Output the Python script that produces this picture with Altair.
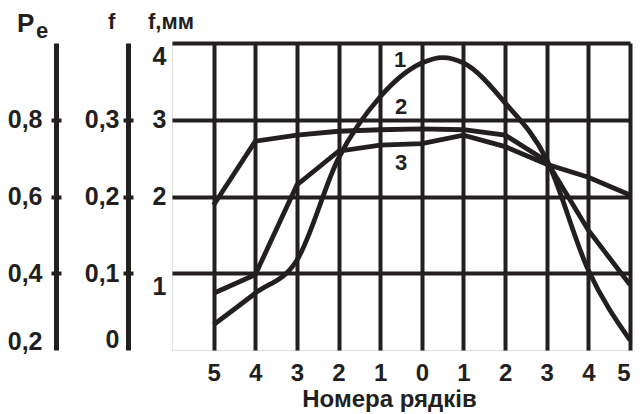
import altair as alt
import pandas as pd

# ---- data ----
positions = [1, 2, 3, 4, 5, 6, 7, 8, 9, 10, 11]
row_labels = [5, 4, 3, 2, 1, 0, 1, 2, 3, 4, 5]

curve1_pos = [1, 2, 3, 4, 5, 6, 6.5, 7, 8, 9, 10, 11]
curve1_val = [0.33, 0.74, 1.17, 2.50, 3.30, 3.74, 3.81, 3.74, 3.22, 2.48, 1.04, 0.13]
curve2_val = [1.89, 2.72, 2.80, 2.85, 2.87, 2.88, 2.87, 2.80, 2.46, 1.56, 0.85]
curve3_val = [0.74, 0.98, 2.15, 2.59, 2.67, 2.69, 2.80, 2.65, 2.42, 2.25, 2.02]

curve_names = ["1", "2", "3"]
curve_name_pos = [5.48, 5.5, 5.5]
curve_name_val = [3.78, 3.17, 2.44]

fmm_ticks = [1, 2, 3, 4]
f_ticks = [0, 0.1, 0.2, 0.3]
pe_ticks = [0.2, 0.4, 0.6, 0.8]

# ---- styling ----
INK = "#231f20"
FONT = "Liberation Sans"

df1 = pd.DataFrame({"pos": curve1_pos, "value": curve1_val})
df23 = pd.concat([
    pd.DataFrame({"pos": positions, "value": curve2_val, "curve": "2"}),
    pd.DataFrame({"pos": positions, "value": curve3_val, "curve": "3"}),
])
dfl = pd.DataFrame({"pos": curve_name_pos, "value": curve_name_val, "name": curve_names})

comma_expr = "datum.value == 0 ? '0' : replace(format(datum.value, '.1f'), '.', ',')"

x_enc = alt.X(
    "pos:Q",
    scale=alt.Scale(domain=[0, 11], nice=False, zero=False),
    axis=alt.Axis(
        values=positions, labelExpr="abs(datum.value - 6)", ticks=False, domain=False,
        grid=True, gridColor=INK, gridWidth=4, gridOpacity=1,
        labelFont=FONT, labelFontWeight="bold", labelFontSize=24, labelColor=INK,
        labelPadding=11,
        title="Номера рядків", titleFont=FONT, titleFontWeight="bold", titleFontSize=24,
        titleColor=INK, titlePadding=2, titleX=217,
    ),
)
y_enc = alt.Y(
    "value:Q",
    scale=alt.Scale(domain=[0, 4], nice=False, zero=False),
    axis=alt.Axis(
        orient="left", values=fmm_ticks, ticks=False, domain=False,
        grid=True, gridColor=INK, gridWidth=4, gridOpacity=1,
        labelFont=FONT, labelFontWeight="bold", labelFontSize=25, labelColor=INK,
        labelPadding=6,
        labelOffset={"condition": {"test": "datum.value == 4 || datum.value == 1", "value": 13}, "value": 0},
        title=None,
    ),
)

c1 = alt.Chart(df1).mark_line(color=INK, strokeWidth=4.8, interpolate="monotone")
c23 = alt.Chart(df23).mark_line(color=INK, strokeWidth=4.8).encode(detail="curve:N")
lbl = alt.Chart(dfl).mark_text(font=FONT, fontWeight="bold", fontSize=22, color=INK).encode(text="name:N")

main = alt.layer(c1, c23, lbl).encode(x=x_enc, y=y_enc)


def side_axis(values, domain, offset, label_shift, pad, with_labels=True):
    d = pd.DataFrame({"v": values})
    if with_labels:
        ax = alt.Axis(
            orient="left", offset=offset, values=values, grid=False, title=None,
            domain=True, domainColor=INK, domainWidth=5,
            tickSize=5, tickWidth=4, tickColor=INK,
            tickOpacity={"condition": {"test": f"datum.value == {domain[0]}", "value": 0}, "value": 1},
            labelExpr=comma_expr, labelPadding=pad,
            labelFont=FONT, labelFontWeight="bold", labelFontSize=25, labelColor=INK,
            labelOffset={"condition": {"test": f"datum.value == {domain[0]}", "value": label_shift}, "value": 0},
        )
    else:
        ax = alt.Axis(
            orient="left", offset=offset, values=[v for v in values if v != domain[0]],
            grid=False, title=None, domain=False, labels=False,
            tickSize=5, tickWidth=4, tickColor=INK,
        )
    return alt.Chart(d).mark_point(opacity=0, size=0).encode(
        x=alt.value(0),
        y=alt.Y("v:Q", scale=alt.Scale(domain=domain, nice=False, zero=False), axis=ax),
    )


f_axis = side_axis(f_ticks, [0, 0.4], 44, -11, 4)
f_axis2 = side_axis(f_ticks, [0, 0.4], 39, 0, 0, with_labels=False)
pe_axis = side_axis(pe_ticks, [0.2, 1.0], 116, -9, 9)
pe_axis2 = side_axis(pe_ticks, [0.2, 1.0], 111, 0, 0, with_labels=False)

one = pd.DataFrame({"k": [0]})


def header(text, x, y, size):
    return alt.Chart(one).mark_text(
        font=FONT, fontWeight="bold", fontSize=size, color=INK, align="left", baseline="alphabetic"
    ).encode(x=alt.value(x), y=alt.value(y), text=alt.value(text))


titles = [
    header("P", -155, -11, 26),
    header("e", -136, -5, 22),
    header("f", -64, -14, 22),
    header("f,мм", -24, -14, 22),
]

chart = alt.layer(main, f_axis, f_axis2, pe_axis, pe_axis2, *titles).resolve_scale(
    y="independent"
).properties(
    width=458, height=307,
    autosize=alt.AutoSizeParams(type="none"),
    padding={"left": 164, "top": 35, "right": 6, "bottom": 62},
).configure_view(stroke=INK, strokeWidth=4).configure(background="white")

chart.save("out.html", embed_options={"renderer": "svg", "actions": False})
